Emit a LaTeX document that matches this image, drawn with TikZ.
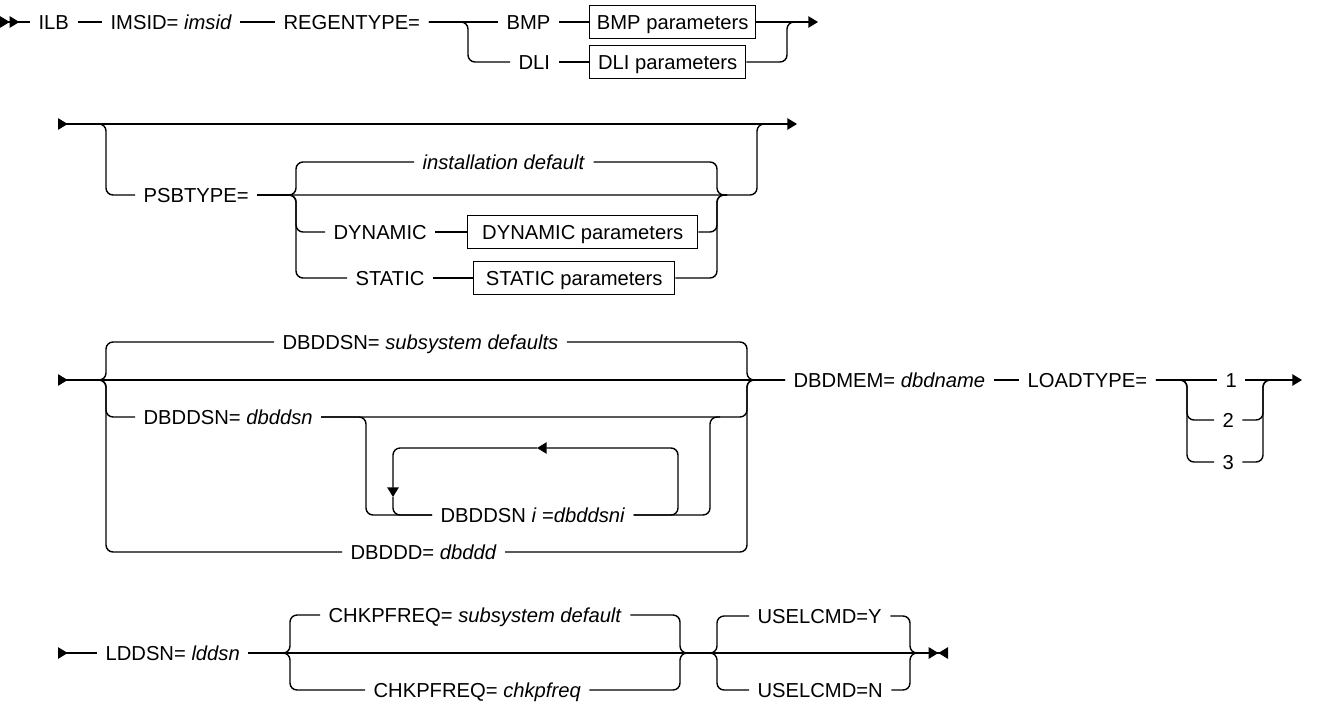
\documentclass[tikz,border=0pt]{standalone}
\usepackage{fontspec}
\setmainfont{Liberation Sans}
\usetikzlibrary{arrows.meta}
\tikzset{rtri/.tip={Triangle[length=5.5pt,width=6.5pt]},
	ltri/.tip={Triangle[length=5.5pt,width=6.5pt,reversed]}}
\begin{document}
\begin{tikzpicture}[x=0.02cm, y=-0.02cm, line width=0.8pt,
				rr/.style={rounded corners=4pt},   %Bogen an Verzweigungen
				lbl/.style={anchor=west, inner xsep=4.5pt, inner ysep=0pt, text height=8pt, text depth=0pt},
				parm/.style={draw, anchor=west, inner xsep=4pt, inner ysep=2.7pt, text height=10.8pt, text depth=2.6pt, minimum width=#1},
				font=\fontsize{11.5}{13}\selectfont]
				\useasboundingbox (0,0) rectangle (1327,703);
				% Zeile 1
				\coordinate (s1) at (0,22);
				\node[lbl] (ilb) at (30,22) {ILB};
				\node[lbl] (imsid) at (102,22) {IMSID= \textit{imsid}};
				\node[lbl] (regen) at (275,22) {REGENTYPE=};
				\node[lbl] (bmp) at (498,22) {BMP};
				\node[lbl] (dli) at (510,62) {DLI};
				\node[parm=3.32cm] (bmpp) at (589,22) {BMP parameters};
				\node[parm=3.12cm] (dlip) at (589,62) {DLI parameters};
				\coordinate (sp1) at (468,62);
				\coordinate (mg1) at (787,22);
				\coordinate (e1) at (818,22);
				\draw[{ltri[] ltri[]}-] (s1) -- (ilb.west);
				\draw (ilb.east) -- (imsid.west);
				\draw (imsid.east) -- (regen.west);
				\draw (regen.east) -- (bmp.west);
				\draw[rr] (regen.east) -| (sp1) -- (dli.west);
				\draw (bmp.east) -- (bmpp.west);
				\draw (dli.east) -- (dlip.west);
				\draw[-rtri] (bmpp.east) -- (e1);
				\draw[rr] (dlip.east) -| (mg1) -- ++(10,0);
				% Zeile 2
				\coordinate (s2) at (58,124);
				\coordinate (e2) at (797,124);
				\node[lbl] (psb) at (135,195) {PSBTYPE=};
				\node[lbl] (inst) at (414,162) {\textit{installation default}};
				\node[lbl] (dyn) at (325,232) {DYNAMIC};
				\node[lbl] (stat) at (347,278) {STATIC};
				\node[parm=4.6cm] (dynp) at (467,232) {DYNAMIC parameters};
				\node[parm=4.02cm] (statp) at (473,278) {STATIC parameters};
				\coordinate (sp2) at (106,195);
				\coordinate (sp3a) at (296,162);
				\coordinate (sp3b) at (296,232);
				\coordinate (sp3c) at (296,278);
				\coordinate (mg2) at (757,124);
				\coordinate (mg3) at (717,195);
				\draw[{ltri}-rtri] (s2) -- (e2);
				\draw[rr] (s2) -| (sp2) -- (psb.west);
				\draw[rr] (psb.east) -| (mg2) -- ++(10,0);
				\foreach \n/\c in {inst/sp3a, dyn/sp3b, stat/sp3c}
					\draw[rr] (psb.east) -| (\c) -- (\n.west);
				\draw (dyn.east) -- (dynp.west);
				\draw (stat.east) -- (statp.west);
				\foreach \n in {inst, dynp, statp}
					\draw[rr] (\n.east) -| (mg3) -- ++(10,0);
				% Zeile 3
				\coordinate (s3) at (58,380);
				\node[lbl] (d1) at (274,342) {DBDDSN= \textit{subsystem defaults}};
				\node[lbl] (d2) at (135,417) {DBDDSN= \textit{dbddsn}};
				\node[lbl] (d4) at (432,515) {DBDDSN \textit{i} =\textit{dbddsni}};
				\node[lbl] (d3) at (342,552) {DBDDD= \textit{dbddd}};
				\node[lbl] (dbdmem) at (785,380) {DBDMEM= \textit{dbdname}};
				\node[lbl] (loadt) at (1019,380) {LOADTYPE=};
				\node[lbl] (n1) at (1217,380) {1};
				\node[lbl] (n2) at (1214,420) {2};
				\node[lbl] (n3) at (1214,462) {3};
				\coordinate (sp4a) at (106,342);
				\coordinate (sp4b) at (106,417);
				\coordinate (sp4c) at (106,552);
				\coordinate (mg4) at (747,380);
				\coordinate (sp5) at (366,515);
				\coordinate (mg5) at (710,417);
				\coordinate (lpR) at (678,448);
				\coordinate (lpT) at (537,448);
				\coordinate (lpL) at (393,497);
				\coordinate (sp6a) at (1187,420);
				\coordinate (sp6b) at (1187,462);
				\coordinate (mg6) at (1263,380);
				\coordinate (e3) at (1302,380);
				\draw[{ltri}-] (s3) -- (dbdmem.west);
				\foreach \n/\c in {d1/sp4a, d2/sp4b, d3/sp4c}
					\draw[rr] (s3) -| (\c) -- (\n.west);
				\foreach \n in {d1, d2, d3}
					\draw[rr] (\n.east) -| (mg4) -- (dbdmem.west);
				\draw[rr] (d2.east) -| (sp5) -- (d4.west);
				\draw[rr] (d4.east) -| (mg5) -- ++(10,0);
				% Wiederholung
				\draw[rr, -rtri] (d4.east) -| (lpR) -- (lpT);
				\draw[rr, -rtri] (lpT) -| (lpL);
				\draw[rr] (lpL) |- (d4.west);
				\draw (dbdmem.east) -- (loadt.west);
				\draw (loadt.east) -- (n1.west);
				\draw[-rtri] (n1.east) -- (e3);
				\foreach \n/\c in {n2/sp6a, n3/sp6b}
					\draw[rr] (loadt.east) -| (\c) -- (\n.west);
				\foreach \n in {n2, n3}
					\draw[rr] (\n.east) -| (mg6) -- ++(10,0);
				% Zeile 4
				\coordinate (s4) at (58,653);
				\node[lbl] (ldd) at (97,653) {LDDSN= \textit{lddsn}};
				\node[lbl] (c1) at (320,615) {CHKPFREQ= \textit{subsystem default}};
				\node[lbl] (c2) at (365,690) {CHKPFREQ= \textit{chkpfreq}};
				\node[lbl] (u1) at (749,616) {USELCMD=Y};
				\node[lbl] (u2) at (749,690) {USELCMD=N};
				\coordinate (sp7a) at (290,615);
				\coordinate (sp7b) at (290,690);
				\coordinate (mg7) at (680,653);
				\coordinate (sp8a) at (717,616);
				\coordinate (sp8b) at (717,690);
				\coordinate (mg8) at (910,653);
				\coordinate (e4) at (948,653);
				\draw[{ltri}-] (s4) -- (ldd.west);
				\draw[-{rtri[] ltri[]}] (ldd.east) -- (e4);
				\foreach \n/\c in {c1/sp7a, c2/sp7b}
					\draw[rr] (ldd.east) -| (\c) -- (\n.west);
				\foreach \n in {c1, c2}
					\draw[rr] (\n.east) -| (mg7) -- ++(10,0);
				\foreach \n/\c in {u1/sp8a, u2/sp8b}
					\draw[rr] (mg7) -| (\c) -- (\n.west);
				\foreach \n in {u1, u2}
					\draw[rr] (\n.east) -| (mg8) -- ++(10,0);
\end{tikzpicture}
\end{document}
